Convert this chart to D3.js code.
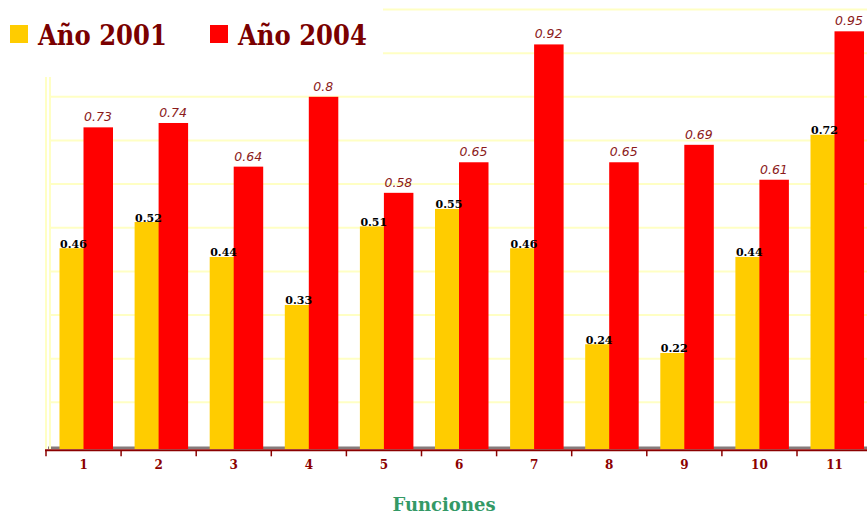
<!DOCTYPE html>
<html>
<head>
<meta charset="utf-8">
<script src="https://cdn.jsdelivr.net/npm/d3@7/dist/d3.min.js"></script>
<style>
  html, body { margin: 0; padding: 0; background: #ffffff; }
  svg { display: block; }
</style>
</head>
<body>
<svg id="chart" width="867" height="514"></svg>
<script>
// Categories (functions) and the two yearly series
const categories = ["1", "2", "3", "4", "5", "6", "7", "8", "9", "10", "11"];
const serie2001 = [0.46, 0.52, 0.44, 0.33, 0.51, 0.55, 0.46, 0.24, 0.22, 0.44, 0.72];
const serie2004 = [0.73, 0.74, 0.64, 0.80, 0.58, 0.65, 0.92, 0.65, 0.69, 0.61, 0.95];
const seriesNames = ["Año 2001", "Año 2004"];
const gridTicks = [0.1, 0.2, 0.3, 0.4, 0.5, 0.6, 0.7, 0.8, 0.9, 1.0];
const axisTitle = "Funciones";

const svg = d3.select("#chart");
const W = 867, H = 514;

const x = d3.scaleBand().domain(categories).range([46, 46 + 75.1 * categories.length]).padding(0);
const y = d3.scaleLinear().domain([0, 1]).range([446, 9.5]);
const floorY = 449;

const colYellow = "#ffcc00";
const colRed = "#ff0000";
const gridCol = "#ffffc4";

// Horizontal grid lines
svg.append("g").selectAll("line").data(gridTicks).join("line")
  .attr("x1", 50).attr("x2", W)
  .attr("y1", d => y(d)).attr("y2", d => y(d))
  .attr("stroke", gridCol).attr("stroke-width", 2);

// Floor strip under the bars
svg.append("rect")
  .attr("x", 48).attr("y", 446.5).attr("width", W - 48).attr("height", 2.5)
  .attr("fill", "#857b7b");

// Left wall (double line)
[46, 50].forEach(px => {
  svg.append("line")
    .attr("x1", px).attr("x2", px).attr("y1", 77).attr("y2", floorY)
    .attr("stroke", gridCol).attr("stroke-width", 2);
});

// Bars: 2001 behind, 2004 in front
const bars = svg.append("g");
bars.selectAll("rect.y2001").data(categories).join("rect")
  .attr("class", "y2001")
  .attr("x", d => x(d) + 13.5)
  .attr("y", (d, i) => y(serie2001[i]) + 3)
  .attr("width", 30)
  .attr("height", (d, i) => floorY - (y(serie2001[i]) + 3))
  .attr("fill", colYellow);

bars.selectAll("rect.y2004").data(categories).join("rect")
  .attr("class", "y2004")
  .attr("x", d => x(d) + 37.5)
  .attr("y", (d, i) => y(serie2004[i]))
  .attr("width", 29.5)
  .attr("height", (d, i) => floorY - y(serie2004[i]))
  .attr("fill", colRed);

// Value labels
svg.append("g").selectAll("text").data(categories).join("text")
  .attr("x", d => x(d) + 14)
  .attr("y", (d, i) => y(serie2001[i]) + 2.5)
  .attr("font-family", "'DejaVu Serif', serif")
  .attr("font-weight", "bold")
  .attr("font-size", 11)
  .attr("fill", "#000000")
  .text((d, i) => d3.format(".2f")(serie2001[i]));

svg.append("g").selectAll("text").data(categories).join("text")
  .attr("x", d => x(d) + 52)
  .attr("y", (d, i) => y(serie2004[i]) - 6)
  .attr("text-anchor", "middle")
  .attr("font-family", "'DejaVu Sans', sans-serif")
  .attr("font-style", "italic")
  .attr("font-size", 12.5)
  .attr("fill", "#8b1a1a")
  .text((d, i) => String(serie2004[i]));

// X axis
const axisG = svg.append("g").attr("transform", `translate(0,${450.3})`);
axisG.call(d3.axisBottom(x).tickSize(0).tickPadding(10));
axisG.select(".domain").remove();
axisG.append("line")
  .attr("x1", 45).attr("x2", W).attr("y1", 0).attr("y2", 0)
  .attr("stroke", "#8b0000").attr("stroke-width", 2);
axisG.selectAll(".bnd").data(categories).join("line")
  .attr("class", "bnd")
  .attr("x1", d => x(d)).attr("x2", d => x(d))
  .attr("y1", 0).attr("y2", 6)
  .attr("stroke", "#8b0000").attr("stroke-width", 1.5);
axisG.selectAll(".tick text")
  .attr("font-family", "'DejaVu Serif', serif")
  .attr("font-weight", "bold")
  .attr("font-size", 12)
  .attr("fill", "#8b0000");

// Axis title
svg.append("text")
  .attr("x", 444).attr("y", 511)
  .attr("text-anchor", "middle")
  .attr("font-family", "'DejaVu Serif', serif")
  .attr("font-weight", "bold")
  .attr("font-size", 18)
  .attr("fill", "#339966")
  .text(axisTitle);

// Legend
svg.append("rect").attr("x", 0).attr("y", 0).attr("width", 383).attr("height", 76).attr("fill", "#ffffff");
const legendItems = [
  { name: seriesNames[0], color: colYellow, sx: 10, tx: 38 },
  { name: seriesNames[1], color: colRed, sx: 210, tx: 238 }
];
const lg = svg.append("g");
lg.selectAll("rect").data(legendItems).join("rect")
  .attr("x", d => d.sx).attr("y", 25).attr("width", 18).attr("height", 18)
  .attr("fill", d => d.color);
lg.selectAll("text").data(legendItems).join("text")
  .attr("x", d => d.tx).attr("y", 45)
  .attr("font-family", "'DejaVu Serif', serif")
  .attr("font-weight", "bold")
  .attr("font-stretch", "condensed")
  .attr("font-size", 27)
  .attr("fill", "#7a0000")
  .text(d => d.name);
</script>
</body>
</html>
